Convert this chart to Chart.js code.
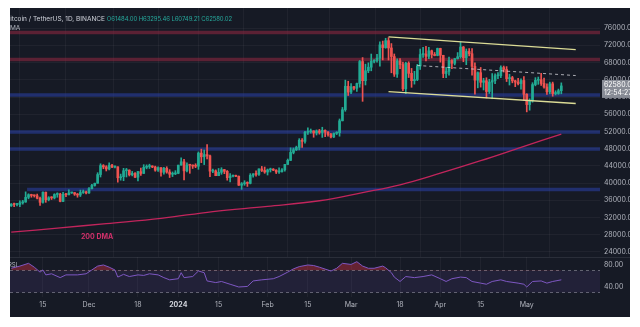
<!DOCTYPE html>
<html>
<head>
<meta charset="utf-8">
<script src="https://cdn.jsdelivr.net/npm/chart.js@4.4.1/dist/chart.umd.min.js"></script>
<style>
  html, body { margin: 0; padding: 0; background: #ffffff; }
  #panel {
    position: absolute; left: 10px; top: 8px; width: 620px; height: 309px;
    background: #161a25; overflow: hidden;
    font-family: Inter, 'DejaVu Sans', sans-serif;
  }
  #price-chart { position: absolute; left: 0; top: 0; }
  #rsi-chart { position: absolute; left: 0; top: 249px; }
  .caption { position: absolute; white-space: nowrap; font-size: 6.5px; line-height: 8px; color: #d1d4dc; }
  .caption .val { color: #26a69a; font-size: 6px; letter-spacing: -0.1px; }
</style>
</head>
<body>
<div id="panel">
  <canvas id="price-chart" width="620" height="249"></canvas>
  <canvas id="rsi-chart" width="620" height="60"></canvas>
  <div class="caption" style="left:-4px; top:7px;">Bitcoin / TetherUS, 1D, BINANCE <span class="val">O61484.00 H63295.46 L60749.21 C62580.02</span></div>
  <div class="caption" style="left:0px; top:16px; color:#b2b5be;">MA</div>
  <div class="caption" style="left:-2px; top:253px; color:#b2b5be; font-size:6px;">RSI</div>
</div>
<script>
// days are counted from 1 Dec 2023; first candle is 4 Nov 2023
const firstDay = -27;

const opens = [
  34730, 35080, 35040, 35040, 35420, 35620, 36700, 37310, 37130, 37060, 36490, 35540, 37880, 36160, 36600, 36570, 37360, 37450, 35750, 37410, 37290, 37720, 37790, 37450, 37240, 37820, 37850,
  37720, 38690, 39460, 39970, 41990, 44080, 43770, 43290, 44170, 43720, 43790, 41240, 41490, 42880, 43020, 41940, 42260, 41370, 42660, 42260, 43660, 43860, 43990, 43740, 43020, 43600, 42520, 43440, 42580, 42070, 42140,
  42280, 44180, 44950, 42850, 44190, 44160, 43970, 43930, 46970, 46120, 46630, 46340, 42780, 42840, 41730, 42510, 43140, 42740, 41260, 41620, 41660, 41580, 39510, 39850, 40080, 39930, 41820, 42120, 42030, 43300, 42940,
  42580, 43080, 43190, 43010, 42580, 42660, 43090, 44340, 45290, 47130, 47750, 48290, 49960, 49700, 51800, 51930, 52130, 51650, 52120, 51780, 52260, 51850, 51300, 50730, 51570, 51730, 54480, 57050, 62500,
  61130, 62390, 62030, 63130, 68250, 63800, 66110, 66930, 68300, 68500, 69020, 72120, 71480, 73100, 71400, 69400, 65320, 68390, 67550, 61910, 67850, 65500, 63800, 64070, 67210, 69880, 69990, 69450, 70740, 69890, 69650,
  71290, 69700, 65460, 65960, 68490, 67840, 68900, 69360, 71620, 69140, 70590, 70060, 67120, 63920, 65660, 63420, 63790, 61280, 63470, 63820, 64940, 64940, 66840, 66410, 64280, 64500, 63770, 63460, 63120, 63840,
  60640, 58250, 59120, 62890, 63890, 64030, 63160, 62330, 61190, 63070, 60800, 60820, 61484
];
const highs = [
  35270, 35380, 35280, 35900, 35990, 37970, 37520, 37420, 37230, 37430, 36760, 37980, 37930, 36850, 36850, 37540, 37750, 37650, 37860, 37650, 38420, 37890, 37820, 37590, 38380, 38400, 38150,
  38990, 39700, 40000, 42420, 44490, 44300, 44050, 44700, 44370, 44040, 43790, 42100, 43430, 43420, 43090, 42720, 42430, 42760, 43500, 44280, 44240, 44400, 44040, 43950, 43800, 43600, 43680, 43800, 43130, 42600, 42900,
  44180, 45900, 45500, 44730, 44340, 44230, 44500, 47250, 47900, 47700, 48970, 46500, 43260, 43080, 43400, 43580, 43200, 42930, 42200, 41870, 41870, 41680, 40130, 40560, 40300, 42200, 42200, 42840, 43300, 43880, 43740,
  43280, 43480, 43380, 43120, 43540, 43400, 44380, 45600, 48200, 48170, 48590, 50330, 50370, 52040, 52820, 52570, 52170, 52360, 52480, 52980, 52370, 52000, 51550, 51680, 51950, 54900, 57590, 63930, 63670,
  63130, 62480, 63230, 68500, 69170, 67640, 67950, 69990, 68700, 69940, 72800, 73000, 73650, 73780, 72420, 70000, 68900, 68930, 68100, 68100, 68200, 66650, 65970, 67600, 71150, 71560, 71770, 71550, 70910, 70350, 71370,
  71340, 69700, 66900, 69290, 68720, 69000, 70330, 72800, 71750, 71170, 71260, 71230, 67930, 65840, 66870, 64360, 64480, 64120, 65450, 65390, 65700, 67230, 67200, 67070, 65300, 64800, 63920, 64370, 64230, 64730,
  60780, 59600, 63330, 64500, 64650, 65500, 64400, 63050, 63450, 63470, 61450, 61850, 63295.46
];
const lows = [
  34580, 34530, 34720, 34520, 35110, 35540, 36350, 36720, 36760, 36340, 34800, 35360, 35540, 35880, 36200, 36320, 36710, 35650, 35670, 36870, 37250, 37600, 37150, 36720, 36880, 37600, 37500,
  37620, 38650, 39290, 39970, 41420, 43340, 42820, 43080, 43580, 43560, 40220, 40680, 40560, 41420, 41660, 41680, 41250, 40500, 41800, 42210, 43320, 43400, 43590, 42760, 42720, 41640, 42100, 42300, 41300, 41520, 41970,
  42180, 44180, 40750, 42630, 42280, 43400, 43590, 43200, 44760, 44300, 45600, 41500, 42440, 41720, 41720, 42050, 42200, 40680, 40280, 41450, 41500, 39450, 38550, 39490, 39230, 39820, 41390, 41620, 41800, 42680, 42280,
  41880, 42580, 42890, 42220, 42260, 42570, 42790, 44330, 45240, 46800, 47560, 47710, 48300, 49300, 51300, 51600, 50660, 51180, 51380, 50620, 50770, 50900, 50520, 50580, 51280, 50900, 54450, 56690, 60360,
  60780, 61660, 61320, 62280, 59000, 62800, 65650, 66090, 67940, 68100, 67190, 68620, 71330, 68600, 65630, 64780, 64550, 66600, 61500, 60780, 64530, 62260, 63000, 63800, 66400, 69230, 68380, 68900, 69080, 69560, 69570,
  68100, 64500, 64490, 65060, 66600, 67450, 68820, 69040, 68220, 67520, 69560, 65100, 60660, 62130, 62300, 61640, 59770, 60820, 59600, 63100, 64250, 64500, 65800, 63600, 62790, 63300, 62400, 62810, 61800, 59190,
  56550, 56940, 58800, 62600, 62950, 62700, 62080, 60630, 60750, 60190, 60490, 60630, 60749.21
];
const closes = [
  35080, 35040, 35040, 35420, 35620, 36700, 37310, 37130, 37060, 36490, 35540, 37880, 36160, 36600, 36570, 37360, 37450, 35750, 37410, 37290, 37720, 37790, 37450, 37240, 37820, 37850, 37720,
  38690, 39460, 39970, 41990, 44080, 43770, 43290, 44170, 43720, 43790, 41240, 41490, 42880, 43020, 41940, 42260, 41370, 42660, 42260, 43660, 43860, 43990, 43740, 43020, 43600, 42520, 43440, 42580, 42070, 42140, 42280,
  44180, 44950, 42850, 44190, 44160, 43970, 43930, 46970, 46120, 46630, 46340, 42780, 42840, 41730, 42510, 43140, 42740, 41260, 41620, 41660, 41580, 39510, 39850, 40080, 39930, 41820, 42120, 42030, 43300, 42940, 42580,
  43080, 43190, 43010, 42580, 42660, 43090, 44340, 45290, 47130, 47750, 48290, 49960, 49700, 51800, 51930, 52130, 51650, 52120, 51780, 52260, 51850, 51300, 50730, 51570, 51730, 54480, 57050, 62500, 61130,
  62390, 62030, 63130, 68250, 63800, 66110, 66930, 68300, 68500, 69020, 72120, 71480, 73100, 71400, 69400, 65320, 68390, 67550, 61910, 67850, 65500, 63800, 64070, 67210, 69880, 69990, 69450, 70740, 69890, 69650, 71290,
  69700, 65460, 65960, 68490, 67840, 68900, 69360, 71620, 69140, 70590, 70060, 67120, 63920, 65660, 63420, 63790, 61280, 63470, 63820, 64940, 64940, 66840, 66410, 64280, 64500, 63770, 63460, 63120, 63840, 60640,
  58250, 59120, 62890, 63890, 64030, 63160, 62330, 61190, 63070, 60800, 60820, 61480, 62580.02
];

// 200-day moving average, sampled along the curve
const dmaDays   = [-27, -10, 6, 25, 43, 62, 80, 95, 108, 122, 136, 150, 164];
const dmaValues = [28600, 29600, 30600, 31800, 33400, 34600, 35900, 37800, 39600, 42300, 45200, 48300, 51400];

// RSI(14)
const rsiDays = [-27, -24, -21, -19, -17, -16, -15, -13, -10, -8, -4, -1, 1, 3, 5, 7, 9, 10, 12, 14, 17, 19, 21, 24, 26, 28, 31, 32, 33, 36, 38, 40, 41, 44, 46, 49, 52, 55, 57, 60, 64, 66, 69, 71, 73, 76, 78, 80,
  84, 86, 88, 91, 93, 95, 97, 99, 102, 103, 105, 106, 108, 110, 113, 116, 119, 122, 124, 126, 129, 131, 133, 136, 138, 140, 143, 145, 149, 151, 152, 154, 157, 159, 161, 164];
const rsiValues = [74, 78, 83, 76, 67, 71, 62, 64, 57, 62, 62, 64, 71, 78, 80, 76, 71, 58, 63, 59, 62, 61, 64, 62, 57, 53, 55, 66, 57, 59, 69, 66, 51, 48, 50, 45, 40, 41, 51, 53, 55, 59, 67, 73, 77, 80, 79, 76,
  69, 74, 83, 81, 86, 78, 74, 74, 78, 75, 66, 58, 50, 59, 57, 59, 62, 55, 50, 55, 58, 57, 50, 47, 45, 50, 53, 50, 47, 45, 40, 50, 51, 47, 50, 53];

// horizontal levels
const resistanceLevels = [75000, 68700];
const supportLevels = [60500, 51900, 47900];
const lowSupport = { from: -21.5, level: 38500 };

// descending channel and mid trendline: [startDay, startPrice, endDay, endPrice]
const channelTop = [104, 73960, 169, 71010];
const channelBottom = [104, 61250, 169, 58500];
const midTrend = [114, 67330, 169, 64990];

const priceTicks = [24000, 28000, 32000, 36000, 40000, 44000, 48000, 52000, 56000, 60000, 64000, 68000, 72000, 76000];
const rsiTicks = [40, 80];
const dateTickDays = [-16, 0, 17, 31, 45, 62, 76, 91, 108, 122, 136, 152];
const dateTickLabels = ['15', 'Dec', '18', '2024', '15', 'Feb', '15', 'Mar', '18', 'Apr', '15', 'May'];
const countdown = '12:54:27';

const xMin = -27.43, xMax = 177.43;
const upColor = '#22ab94';
const downColor = '#ef5350';
const resistanceColor = 'rgba(150,40,65,0.55)';
const supportColor = 'rgba(40,62,155,0.62)';
const textColor = '#b2b5be';
const gridColor = 'rgba(255,255,255,0.045)';
const font = 'Inter, "DejaVu Sans", sans-serif';
const tickFont = { size: 7, family: font, lineHeight: 1 };

const candleDays = opens.map((_, i) => firstDay + i);
const candleColors = candleDays.map((_, i) => closes[i] >= opens[i] ? upColor : downColor);

function segment(seg) {
  return [{ x: seg[0], y: seg[1] }, { x: seg[2], y: seg[3] }];
}
function fullWidth(level, from) {
  return [{ x: from, y: level }, { x: xMax, y: level }];
}

function fixedAxis(width) {
  return scale => {
    scale.width = width;
    scale.paddingTop = 0;
    scale.paddingBottom = 0;
  };
}

function band(level, from, color) {
  return { type: 'line', data: fullWidth(level, from), borderColor: color, borderWidth: 3.5, pointRadius: 0, order: 10 };
}

const bandDatasets = [
  ...resistanceLevels.map(l => band(l, xMin, resistanceColor)),
  ...supportLevels.map(l => band(l, xMin, supportColor)),
  band(lowSupport.level, lowSupport.from, supportColor)
];

const labelPlugin = {
  id: 'annotations',
  afterDraw(chart) {
    const { ctx, chartArea, scales: { x, y } } = chart;
    ctx.save();
    // 200 DMA caption
    ctx.fillStyle = '#d0306a';
    ctx.font = 'bold 7px ' + font;
    ctx.textAlign = 'center';
    ctx.textBaseline = 'middle';
    ctx.fillText('200 DMA', x.getPixelForValue(2.8), y.getPixelForValue(27500));

    // last price tag on the axis
    const last = closes[closes.length - 1];
    const py = y.getPixelForValue(last);
    ctx.fillStyle = '#878b95';
    ctx.fillRect(chartArea.right + 2, py - 6, 40, 18);
    ctx.fillStyle = '#ffffff';
    ctx.font = '7px ' + font;
    ctx.textAlign = 'left';
    ctx.fillText(last.toFixed(2), chartArea.right + 4, py - 1);
    ctx.fillText(countdown, chartArea.right + 4, py + 7);
    ctx.restore();
  }
};

new Chart(document.getElementById('price-chart'), {
  type: 'bar',
  data: {
    datasets: [
      { type: 'bar', data: candleDays.map((d, i) => ({ x: d, y: [lows[i], highs[i]] })), backgroundColor: candleColors, barThickness: 1, grouped: false, order: 2 },
      { type: 'bar', data: candleDays.map((d, i) => ({ x: d, y: [opens[i], closes[i]] })), backgroundColor: candleColors, barThickness: 2, minBarLength: 1, grouped: false, order: 1 },
      { type: 'line', data: dmaDays.map((d, i) => ({ x: d, y: dmaValues[i] })), borderColor: '#c2255c', borderWidth: 1.3, pointRadius: 0, tension: 0.4, order: 5 },
      ...bandDatasets,
      { type: 'line', data: segment(channelTop), borderColor: '#dcdc96', borderWidth: 1.3, pointRadius: 0, order: 0 },
      { type: 'line', data: segment(channelBottom), borderColor: '#dcdc96', borderWidth: 1.3, pointRadius: 0, order: 0 },
      { type: 'line', data: segment(midTrend), borderColor: 'rgba(220,220,225,0.75)', borderWidth: 1, borderDash: [3, 3], pointRadius: 0, order: 0 }
    ]
  },
  options: {
    responsive: false,
    animation: false,
    layout: { padding: 0 },
    plugins: { legend: { display: false }, tooltip: { enabled: false } },
    scales: {
      x: {
        type: 'linear', min: xMin, max: xMax, offset: false,
        grid: { color: gridColor, drawTicks: false },
        border: { display: false },
        ticks: { display: false },
        afterBuildTicks: s => { s.ticks = dateTickDays.map(v => ({ value: v })); },
        afterFit: s => { s.height = 0; s.paddingLeft = 0; s.paddingRight = 0; }
      },
      y: {
        position: 'right', min: 22836, max: 80684,
        grid: { color: gridColor, drawTicks: false },
        border: { display: false },
        ticks: { color: textColor, font: tickFont, padding: 4, autoSkip: false, callback: v => v.toFixed(2) },
        afterBuildTicks: s => { s.ticks = priceTicks.map(v => ({ value: v })); },
        afterFit: fixedAxis(30)
      }
    }
  },
  plugins: [labelPlugin]
});

// pane separator and the RSI level labels on the right axis
const rsiPane = {
  id: 'rsiPane',
  beforeDraw(chart) {
    const { ctx, chartArea } = chart;
    ctx.save();
    ctx.strokeStyle = '#2a2e39';
    ctx.lineWidth = 1;
    ctx.beginPath();
    ctx.moveTo(0, chartArea.top + 0.5);
    ctx.lineTo(chart.width, chartArea.top + 0.5);
    ctx.stroke();
    ctx.restore();
  },
  afterDraw(chart) {
    const { ctx, chartArea, scales: { y } } = chart;
    ctx.save();
    ctx.fillStyle = textColor;
    ctx.font = '7px ' + font;
    ctx.textAlign = 'left';
    ctx.textBaseline = 'middle';
    rsiTicks.forEach(v => ctx.fillText(v.toFixed(2), chartArea.right + 4, y.getPixelForValue(v)));
    ctx.restore();
  }
};

new Chart(document.getElementById('rsi-chart'), {
  type: 'line',
  data: {
    datasets: [
      { data: fullWidth(70, xMin), borderColor: 'rgba(190,190,200,0.45)', borderWidth: 1, borderDash: [3, 3], pointRadius: 0,
        fill: { target: { value: 30 } }, backgroundColor: 'rgba(126,87,194,0.12)', order: 3 },
      { data: fullWidth(30, xMin), borderColor: 'rgba(190,190,200,0.45)', borderWidth: 1, borderDash: [3, 3], pointRadius: 0, fill: false, order: 3 },
      { data: rsiDays.map((d, i) => ({ x: d, y: rsiValues[i] })), borderColor: '#7e57c2', borderWidth: 1, pointRadius: 0,
        fill: { target: { value: 70 }, above: 'rgba(220,50,70,0.4)', below: 'rgba(0,0,0,0)' }, order: 1 }
    ]
  },
  options: {
    responsive: false,
    animation: false,
    layout: { padding: 0 },
    plugins: { legend: { display: false }, tooltip: { enabled: false } },
    scales: {
      x: {
        type: 'linear', min: xMin, max: xMax,
        grid: { color: gridColor, drawTicks: false },
        border: { display: false },
        ticks: {
          padding: 4, maxRotation: 0, autoSkip: false,
          color: ctx => dateTickLabels[ctx.index] === '2024' ? '#d1d4dc' : textColor,
          font: ctx => ({ size: 7, family: font, weight: dateTickLabels[ctx.index] === '2024' ? 'bold' : 'normal' }),
          callback: (v, i) => dateTickLabels[i]
        },
        afterBuildTicks: s => { s.ticks = dateTickDays.map(v => ({ value: v })); },
        afterFit: s => { s.height = 20; s.paddingLeft = 0; s.paddingRight = 0; }
      },
      y: {
        position: 'right', min: 21.8, max: 94.5,
        grid: { display: false },
        border: { display: false },
        ticks: { display: false },
        afterFit: fixedAxis(30)
      }
    }
  },
  plugins: [rsiPane]
});
</script>
</body>
</html>
